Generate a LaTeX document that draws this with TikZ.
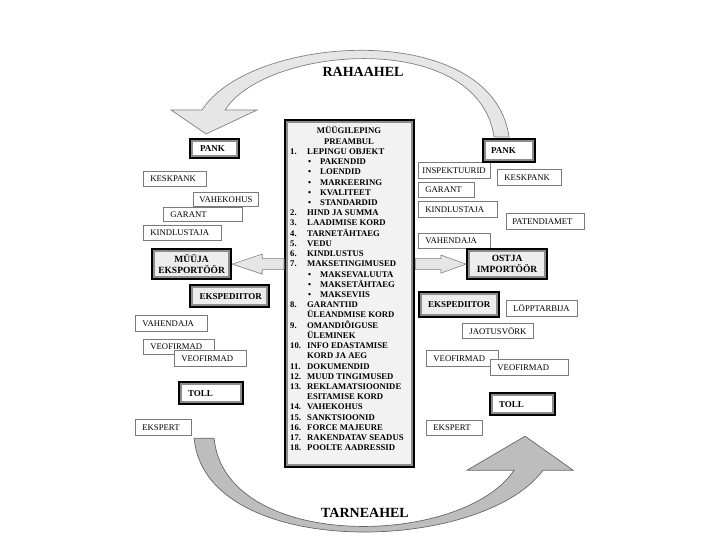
\documentclass[tikz,border=0pt]{standalone}
\usepackage{fontspec}
\setmainfont{Liberation Serif}
\usetikzlibrary{calc}
\definecolor{boxfill}{HTML}{EDEDED}
\definecolor{cfill}{HTML}{F2F2F2}
\definecolor{thinline}{HTML}{7A7A7A}
\definecolor{toparrow}{HTML}{E6E6E6}
\definecolor{botarrow}{HTML}{BDBDBD}
\definecolor{arrowline}{HTML}{808080}
\definecolor{innergray}{HTML}{8C8C8C}
\tikzset{
  dbox/.style={draw=black, line width=2.2pt, fill=#1, anchor=north west, inner ysep=0pt,
    font=\bfseries\fontsize{9}{10.5}\selectfont,
    path picture={\draw[innergray, line width=5.4pt] (path picture bounding box.south west) rectangle (path picture bounding box.north east);}},
  dbox/.default=white,
  tbox/.style={draw=thinline, line width=0.8pt, fill=white, anchor=north west, inner ysep=0pt,
    inner xsep=7pt, align=left, font=\fontsize{8.7}{10}\selectfont},
  ct/.style={anchor=base west, inner sep=0pt, font=\bfseries\fontsize{8.7}{10}\selectfont},
  ctc/.style={anchor=base, inner sep=0pt, font=\bfseries\fontsize{8.7}{10}\selectfont},
  flatarrow/.style={draw=arrowline, fill=toparrow, line width=0.6pt},
  bigtop/.style={draw=arrowline, fill=toparrow, line width=0.7pt},
  bigbot/.style={draw=arrowline!80!black, fill=botarrow, line width=0.7pt},
  titlefont/.style={inner sep=0pt, font=\bfseries\fontsize{14}{16}\selectfont}
}
\begin{document}
\begin{tikzpicture}[x=1pt,y=-1pt]
\useasboundingbox (0,0) rectangle (720,540);

% reference frames of the boxes the big arrows attach to
\path
  node[dbox, minimum width=49pt, minimum height=19pt, draw=none, fill=none, path picture={}] (pankL) at (189,138) {}
  node[dbox, minimum width=52pt, minimum height=23pt, draw=none, fill=none, path picture={}] (pankR) at (482,138) {}
  node[dbox, minimum width=64pt, minimum height=22pt, draw=none, fill=none, path picture={}] (tollL) at (178,381) {}
  node[dbox, minimum width=65pt, minimum height=22pt, draw=none, fill=none, path picture={}] (tollR) at (489,392) {};

% RAHAAHEL curved arrow
\draw[bigtop] ($(pankR.north)+(0,-1)$) .. controls (492,18) and (250,34) .. ($(pankL.north)+(-12.5,-28)$)
  -- ($(pankL.north)+(-43.5,-28)$) -- ($(pankL.north)+(-8.5,-4)$) -- ($(pankL.north)+(42.5,-28)$)
  -- ($(pankL.north)+(10.5,-28)$) .. controls (265,46) and (478,28) .. ($(pankR.north)+(-15,-1)$) -- cycle;

% TARNEAHEL curved arrow
\draw[bigbot] ($(tollL.south)+(-17,33)$) .. controls (205,560) and (480,555) .. ($(tollR.south)+(20.5,54)$)
  -- ($(tollR.south)+(50.5,54)$) -- ($(tollR.south)+(2.5,20)$) -- ($(tollR.south)+(-55.5,54)$)
  -- ($(tollR.south)+(-8.5,54)$) .. controls (462,548) and (225,552) .. ($(tollL.south)+(3,33)$) -- cycle;

% left thin boxes
\node[tbox, minimum width=63pt, minimum height=15pt, text width=49pt] (keskpankL) at (143,171) {KESKPANK};
\node[tbox, minimum width=65pt, minimum height=14pt, inner xsep=6pt, text width=53pt] (vahekohus) at (193,192) {VAHEKOHUS};
\node[tbox, minimum width=79pt, minimum height=14pt, text width=65pt] (garantL) at (163,207) {GARANT};
\node[tbox, minimum width=78pt, minimum height=15pt, text width=64pt] (kindlL) at (143,225) {KINDLUSTAJA};
\node[tbox, minimum width=72pt, minimum height=16pt, text width=58pt] (vahendL) at (135,315) {VAHENDAJA};
\node[tbox, minimum width=71pt, minimum height=15pt, text width=57pt] (veoLa) at (143,339) {VEOFIRMAD};
\node[tbox, minimum width=72pt, minimum height=16pt, text width=58pt] (veoLb) at (174,350) {VEOFIRMAD};
\node[tbox, minimum width=56pt, minimum height=16pt, text width=42pt] (ekspertL) at (135,419) {EKSPERT};

% right thin boxes
\node[tbox, minimum width=72pt, minimum height=16pt, inner xsep=4pt, text width=64pt] (inspekt) at (418,162) {INSPEKTUURID};
\node[tbox, minimum width=64pt, minimum height=16pt, text width=50pt] (keskpankR) at (497,169) {KESKPANK};
\node[tbox, minimum width=56pt, minimum height=15pt, text width=42pt] (garantR) at (418,182) {GARANT};
\node[tbox, minimum width=79pt, minimum height=16pt, text width=65pt] (kindlR) at (418,201) {KINDLUSTAJA};
\node[tbox, minimum width=78pt, minimum height=16pt, inner xsep=6pt, text width=66pt] (patent) at (506,213) {PATENDIAMET};
\node[tbox, minimum width=72pt, minimum height=15pt, text width=58pt] (vahendR) at (418,233) {VAHENDAJA};
\node[tbox, minimum width=71pt, minimum height=16pt, text width=57pt] (lopp) at (506,300) {LÖPPTARBIJA};
\node[tbox, minimum width=71pt, minimum height=15pt, text width=57pt] (jaotus) at (462,323) {JAOTUSVÖRK};
\node[tbox, minimum width=72pt, minimum height=16pt, text width=58pt] (veoRa) at (426,350) {VEOFIRMAD};
\node[tbox, minimum width=78pt, minimum height=16pt, text width=64pt] (veoRb) at (490,359) {VEOFIRMAD};
\node[tbox, minimum width=56pt, minimum height=15pt, text width=42pt] (ekspertR) at (426,420) {EKSPERT};

% double boxes
\node[dbox, minimum width=49pt, minimum height=19pt, inner xsep=10pt, text width=29pt] (pankLbox) at (189,138) {PANK};
\node[dbox, minimum width=52pt, minimum height=23pt, inner xsep=8pt, text width=36pt] (pankRbox) at (482,138) {PANK};
\node[dbox=boxfill, minimum width=79pt, minimum height=30pt, inner xsep=2pt, align=center,
  font=\bfseries\fontsize{9.5}{10.5}\selectfont] (seller) at (151,248) {MÜÜJA\\EKSPORTÖÖR};
\node[dbox=boxfill, minimum width=80pt, minimum height=30pt, inner xsep=2pt, align=center,
  font=\bfseries\fontsize{9.5}{10.5}\selectfont] (buyer) at (466,248) {OSTJA\\IMPORTÖÖR};
\node[dbox=boxfill, minimum width=79pt, minimum height=22pt, inner xsep=9.5pt, text width=60pt] (ekspL) at (189,284) {EKSPEDIITOR};
\node[dbox=boxfill, minimum width=80pt, minimum height=25pt, inner xsep=9pt, text width=62pt] (ekspR) at (418,291) {EKSPEDIITOR};
\node[dbox, minimum width=64pt, minimum height=22pt, inner xsep=9pt, text width=46pt] (tollLbox) at (178,381) {TOLL};
\node[dbox, minimum width=65pt, minimum height=22pt, inner xsep=9pt, text width=47pt] (tollRbox) at (489,392) {TOLL};

% central contract box
\node[dbox=cfill, minimum width=129pt, minimum height=347pt] (contract) at (284,119) {};

% flat arrows between contract and parties
\draw[flatarrow] (seller.east) -- ($(seller.east)+(30,-10)$) -- ($(seller.east)+(30,-5.5)$)
  -- ($(contract.west|-seller.east)+(0,-5.5)$) -- ($(contract.west|-seller.east)+(0,5.5)$)
  -- ($(seller.east)+(30,5.5)$) -- ($(seller.east)+(30,10)$) -- cycle;
\draw[flatarrow] (buyer.west) -- ($(buyer.west)+(-25,-9)$) -- ($(buyer.west)+(-25,-5.5)$)
  -- ($(contract.east|-buyer.west)+(0,-5.5)$) -- ($(contract.east|-buyer.west)+(0,5.5)$)
  -- ($(buyer.west)+(-25,5.5)$) -- ($(buyer.west)+(-25,9)$) -- cycle;

% contract text
\node[ctc] (title1) at (349,134) {MÜÜGILEPING};
\node[ctc] (title2) at (349,{134+10.22}) {PREAMBUL};
\foreach \i/\n/\t in {2/1./LEPINGU OBJEKT, 8/2./HIND JA SUMMA, 9/3./LAADIMISE KORD,
  10/4./TARNETÄHTAEG, 11/5./VEDU, 12/6./KINDLUSTUS, 13/7./MAKSETINGIMUSED,
  17/8./GARANTIID, 19/9./OMANDIÕIGUSE, 21/10./INFO EDASTAMISE, 23/11./DOKUMENDID,
  24/12./MUUD TINGIMUSED, 25/13./REKLAMATSIOONIDE, 27/14./VAHEKOHUS, 28/15./SANKTSIOONID,
  29/16./FORCE MAJEURE, 30/17./RAKENDATAV SEADUS, 31/18./POOLTE AADRESSID} {
  \node[ct] (num\i) at (290,{134+10.22*\i}) {\n};
  \node[ct] (item\i) at (307,{134+10.22*\i}) {\t};
}
\foreach \i/\t in {18/ÜLEANDMISE KORD, 20/ÜLEMINEK, 22/KORD JA AEG, 26/ESITAMISE KORD} {
  \node[ct] (item\i) at (307,{134+10.22*\i}) {\t};
}
\foreach \i/\t in {3/PAKENDID, 4/LOENDID, 5/MARKEERING, 6/KVALITEET, 7/STANDARDID,
  14/MAKSEVALUUTA, 15/MAKSETÄHTAEG, 16/MAKSEVIIS} {
  \node[ct] (bul\i) at (308,{134+10.22*\i}) {\textbullet};
  \node[ct] (item\i) at (320,{134+10.22*\i}) {\t};
}

% titles
\node[titlefont] (rahaahel) at (363,72) {RAHAAHEL};
\node[titlefont] (tarneahel) at (365,513) {TARNEAHEL};
\end{tikzpicture}
\end{document}
